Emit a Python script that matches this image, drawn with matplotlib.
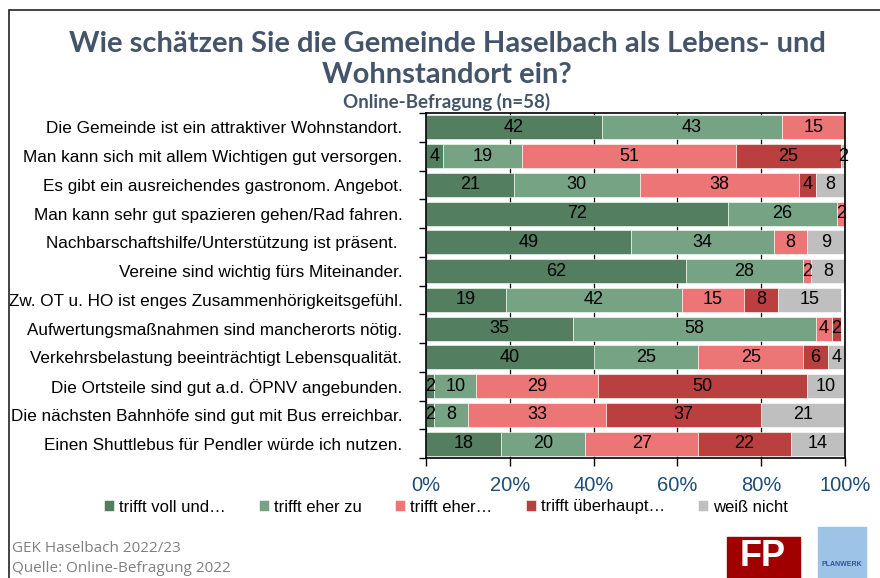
import numpy as np
import matplotlib.pyplot as plt
from matplotlib.patches import Rectangle
from matplotlib.ticker import FuncFormatter

plt.rcParams['font.family'] = ['Liberation Sans', 'DejaVu Sans']

# -------------------------
# Survey data (percent)
# -------------------------

statements = [
    "Die Gemeinde ist ein attraktiver Wohnstandort.",
    "Man kann sich mit allem Wichtigen gut versorgen.",
    "Es gibt ein ausreichendes gastronom. Angebot.",
    "Man kann sehr gut spazieren gehen/Rad fahren.",
    "Nachbarschaftshilfe/Unterstützung ist präsent. ",
    "Vereine sind wichtig fürs Miteinander.",
    "Zw. OT u. HO ist enges Zusammenhörigkeitsgefühl.",
    "Aufwertungsmaßnahmen sind mancherorts nötig.",
    "Verkehrsbelastung beeinträchtigt Lebensqualität.",
    "Die Ortsteile sind gut a.d. ÖPNV angebunden.",
    "Die nächsten Bahnhöfe sind gut mit Bus erreichbar.",
    "Einen Shuttlebus für Pendler würde ich nutzen.",
]

voll_zu = [42, 4, 21, 72, 49, 62, 19, 35, 40, 2, 2, 18]
eher_zu = [43, 19, 30, 26, 34, 28, 42, 58, 25, 10, 8, 20]
eher_nicht = [15, 51, 38, 2, 8, 2, 15, 4, 25, 29, 33, 27]
gar_nicht = [0, 25, 4, 0, 0, 0, 8, 2, 6, 50, 37, 22]
weiss_nicht = [0, 2, 8, 0, 9, 8, 15, 0, 4, 10, 21, 14]

legend_labels = ["trifft voll und…", "trifft eher zu", "trifft eher…",
                 "trifft überhaupt…", "weiß nicht"]
colors = ["#547e60", "#75a383", "#ec7675", "#ba4040", "#bfbfbf"]

series = [voll_zu, eher_zu, eher_nicht, gar_nicht, weiss_nicht]

# -------------------------
# Figure
# -------------------------

fig = plt.figure(figsize=(8.8, 5.78), dpi=100)

# outer frame
fig.patches.append(Rectangle((9 / 880, -0.05), 1.0, 1 - 10 / 578 + 0.05,
                             transform=fig.transFigure, fill=False,
                             edgecolor="#222222", linewidth=1.2))

ax = fig.add_axes([426 / 880, 1 - 458 / 578, 419 / 880, 345 / 578])

y = np.arange(len(statements))
left = np.zeros(len(statements))

for vals, col, lab in zip(series, colors, legend_labels):
    vals = np.array(vals, dtype=float)
    ax.barh(y, vals, left=left, height=0.84, color=col, label=lab,
            edgecolor="white", linewidth=0.4, zorder=2)
    for yi, l, v in zip(y, left, vals):
        if v > 0:
            # rounding can push a row past 100 %, so centre on the visible part
            xc = (l + min(l + v, 100)) / 2
            ax.text(xc, yi, f"{int(v)}", ha="center", va="center",
                    fontsize=13, color="black", zorder=3, clip_on=False)
    left += vals

ax.set_xlim(0, 100)
ax.set_ylim(len(statements) - 0.5, -0.5)

# boundaries get the tick marks, centres get the statements
ax.set_yticks(np.arange(-0.5, len(statements)), labels=[])
ax.set_yticks(y, labels=statements, minor=True)
ax.tick_params(axis="y", which="major", length=5, width=1, direction="out")
ax.tick_params(axis="y", which="minor", length=0, pad=17, labelsize=12.3)

ax.set_xticks(np.arange(0, 101, 20))
ax.xaxis.set_major_formatter(FuncFormatter(lambda v, _: f"{int(v)}%"))
ax.tick_params(axis="x", length=6, width=1, direction="out", pad=7,
               labelsize=14.5, labelcolor="#1f4e79")

ax.grid(axis="x", color="black", linewidth=0.9, zorder=0)
ax.set_axisbelow(True)
for sp in ax.spines.values():
    sp.set_linewidth(1.2)
    sp.set_color("black")

leg = fig.legend(loc="center", bbox_to_anchor=(0.507, 1 - 507 / 578), ncol=5,
                 frameon=False, fontsize=12, handlelength=0.6,
                 handleheight=0.6, handletextpad=0.3, columnspacing=2.0)

# -------------------------
# Titles and footer
# -------------------------

title_color = "#44546a"
fig.text(0.508, 1 - 44 / 578, "Wie schätzen Sie die Gemeinde Haselbach als Lebens- und",
         ha="center", va="center", fontsize=21, fontweight="bold",
         color=title_color, family=["Lato", "DejaVu Sans"])
fig.text(0.508, 1 - 75 / 578, "Wohnstandort ein?", ha="center", va="center",
         fontsize=21, fontweight="bold", color=title_color,
         family=["Lato", "DejaVu Sans"])
fig.text(0.508, 1 - 102 / 578, "Online-Befragung (n=58)", ha="center",
         va="center", fontsize=13.5, fontweight="bold", color=title_color,
         family=["Lato", "DejaVu Sans"])

fig.text(12 / 880, 1 - 548 / 578, "GEK Haselbach 2022/23", ha="left",
         va="center", fontsize=11, color="#808080",
         family=["Open Sans", "DejaVu Sans"])
fig.text(12 / 880, 1 - 569 / 578, "Quelle: Online-Befragung 2022", ha="left",
         va="center", fontsize=11, color="#808080",
         family=["Open Sans", "DejaVu Sans"])

# logos
fig.patches.append(Rectangle((727 / 880, 0), 73 / 880, 41 / 578,
                             transform=fig.transFigure, color="#a00000"))
fig.text(763 / 880, 1 - 557 / 578, "FP", ha="center", va="center",
         fontsize=26, fontweight="bold", color="white")
fig.patches.append(Rectangle((818 / 880, 0), 48 / 880, 51 / 578,
                             transform=fig.transFigure, color="#9dc3e6"))
fig.text(842 / 880, 1 - 565 / 578, "PLANWERK", ha="center", va="center",
         fontsize=5, fontweight="bold", color="#2f5597")

fig.savefig("out.png", dpi=100)
